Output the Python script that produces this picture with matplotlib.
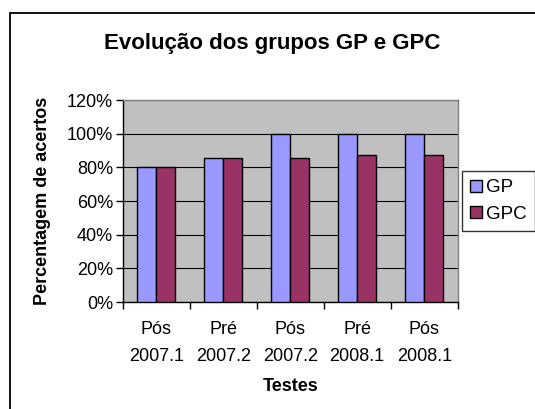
import matplotlib
matplotlib.use('Agg')
from matplotlib import pyplot as plt
from matplotlib.patches import Rectangle
from matplotlib.ticker import FuncFormatter
import numpy as np

categories = ['Pós\n2007.1', 'Pré\n2007.2', 'Pós\n2007.2', 'Pré\n2008.1', 'Pós\n2008.1']
gp = [80, 85.7, 100, 100, 100]
gpc = [80, 85.7, 85.7, 87.5, 87.5]
series_names = ['GP', 'GPC']

plt.rcParams['font.family'] = ['Liberation Sans', 'DejaVu Sans']

fig = plt.figure(figsize=(5.35, 4.09), dpi=100)
ax = fig.add_axes([0.2293, 0.2616, 0.6262, 0.4939])

# outer chart frame (runs past right and bottom edges like the reference)
top = 1 - 13 / 409
fig.patches.append(Rectangle((10 / 535, -0.2), 1.2, top + 0.2,
                             transform=fig.transFigure, fill=False,
                             edgecolor='black', linewidth=1.3))

x = np.arange(len(categories))
w = 0.28
ax.bar(x - w / 2, gp, w, color='#9999FF', edgecolor='black', linewidth=1, label=series_names[0], zorder=3)
ax.bar(x + w / 2, gpc, w, color='#993366', edgecolor='black', linewidth=1, label=series_names[1], zorder=3)

ax.set_facecolor('#C0C0C0')
ax.set_xlim(-0.5, len(categories) - 0.5)
ax.set_ylim(0, 120)
ax.set_yticks(np.arange(0, 121, 20))
ax.yaxis.set_major_formatter(FuncFormatter(lambda v, p: '%d%%' % v))
ax.grid(axis='y', color='black', linewidth=0.8, zorder=1)

ax.set_xticks(x)
ax.set_xticklabels(categories, fontsize=13, linespacing=1.7)
ax.tick_params(axis='x', length=0, pad=14)
ax.set_xticks(np.arange(-0.5, len(categories), 1), minor=True)
ax.tick_params(axis='x', which='minor', length=5, direction='out', width=1)
ax.tick_params(axis='y', length=5, direction='out', width=1, labelsize=13, pad=2)

for s in ['left', 'bottom']:
    ax.spines[s].set_color('black')
    ax.spines[s].set_linewidth(1)
for s in ['top', 'right']:
    ax.spines[s].set_color('#808080')
    ax.spines[s].set_linewidth(1)

ax.set_xlabel('Testes', fontsize=13, fontweight='bold', labelpad=10)
ax.set_ylabel('Percentagem de acertos', fontsize=13, fontweight='bold', labelpad=11)
fig.text(0.509, 1 - 43 / 409, 'Evolução dos grupos GP e GPC', ha='center', va='center',
         fontsize=16, fontweight='bold')

leg = fig.legend(loc='upper left', bbox_to_anchor=(462 / 535, 1 - 171 / 409),
                 frameon=True, fancybox=False, edgecolor='black', fontsize=13.5,
                 handlelength=0.6, handleheight=0.6, handletextpad=0.25,
                 borderaxespad=0, borderpad=0.45, labelspacing=0.5)
leg.get_frame().set_linewidth(1)

fig.savefig('out.png', dpi=100)
